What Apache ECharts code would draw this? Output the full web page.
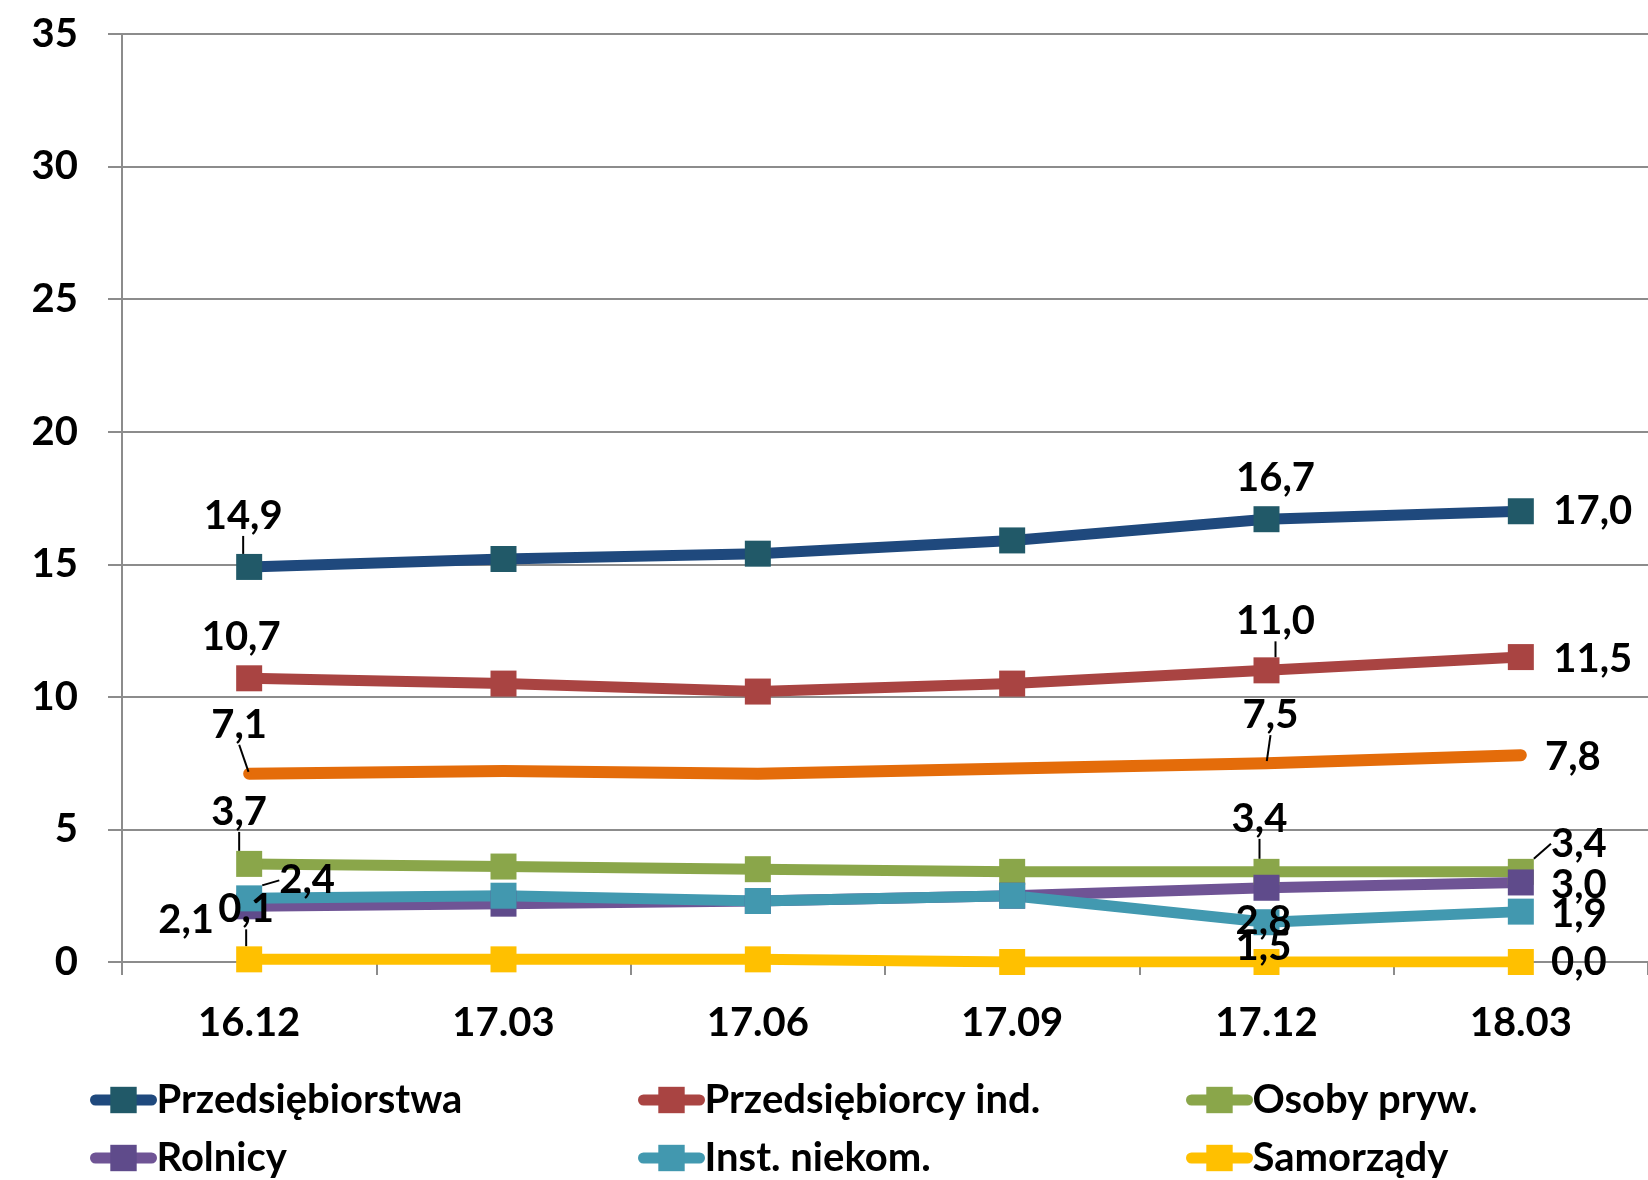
<!DOCTYPE html>
<html>
<head>
<meta charset="utf-8">
<script src="https://cdn.jsdelivr.net/npm/echarts@6/dist/echarts.min.js"></script>
<style>
html, body { margin: 0; padding: 0; background: #fff; }
#chart { width: 1648px; height: 1180px; }
</style>
</head>
<body>
<div id="chart"></div>
<script>
// kwartały
var categories = ['16.12', '17.03', '17.06', '17.09', '17.12', '18.03'];

// wartości serii
var przedsiebiorstwa = [14.9, 15.2, 15.4, 15.9, 16.7, 17.0];
var przedsiebiorcyInd = [10.7, 10.5, 10.2, 10.5, 11.0, 11.5];
var ogolem = [7.1, 7.2, 7.1, 7.3, 7.5, 7.8];
var osobyPryw = [3.7, 3.6, 3.5, 3.4, 3.4, 3.4];
var rolnicy = [2.1, 2.2, 2.3, 2.5, 2.8, 3.0];
var instNiekom = [2.4, 2.5, 2.3, 2.5, 1.5, 1.9];
var samorzady = [0.1, 0.1, 0.1, 0.0, 0.0, 0.0];

var yTicks = [0, 5, 10, 15, 20, 25, 30, 35];

var FONT = 'Lato';
var grey = '#8c8c8c';

// przesunięcia etykiet [dx, dy, linia prowadząca]
var labelPos = {
    przeds: {0: [-6, -51, true], 4: [9, -41, false], 5: [72, 0, false]},
    przedsInd: {0: [-8, -41, false], 4: [9, -49, true], 5: [72, 2, false]},
    ogolem: {0: [-10, -49, true], 4: [4, -48, true], 5: [52, 2, false]},
    osoby: {0: [-10, -52, true], 4: [-7, -53, true], 5: [58, -28, true]},
    rolnicy: {0: [-63, 14, false], 4: [-3, 33, false], 5: [58, 3, false]},
    inst: {0: [58, -18, true], 4: [-3, 25, false], 5: [58, 2, false]},
    samorz: {0: [-3, -50, true], 5: [58, 0, false]}
};

function fmt(v) {
    return v.toFixed(1).replace('.', ',');
}

function makeSeries(name, values, key, lineColor, markerColor, opts) {
    opts = opts || {};
    var pos = labelPos[key];
    var data = values.map(function (v, i) {
        var p = pos[i];
        return {
            value: v,
            label: {show: !!p},
            labelLine: {show: !!(p && p[2])}
        };
    });
    return {
        name: name,
        type: 'line',
        data: data,
        symbol: opts.symbol || 'rect',
        symbolSize: opts.symbolSize || 26,
        showAllSymbol: true,
        lineStyle: {color: lineColor, width: opts.width || 11, cap: 'round', join: 'round'},
        itemStyle: {color: markerColor},
        label: {
            position: 'inside',
            formatter: function (p) { return fmt(p.value); },
            fontFamily: FONT,
            fontWeight: 'bold',
            fontSize: 40,
            color: '#000'
        },
        labelLine: {show: true, lineStyle: {color: '#000', width: 2}},
        labelLayout: function (params) {
            var p = pos[params.dataIndex];
            if (!p) return {};
            return {dx: p[0], dy: p[1]};
        },
        emphasis: {disabled: true}
    };
}

var series = [
    makeSeries('Przedsiębiorstwa', przedsiebiorstwa, 'przeds', '#1f497d', '#215968'),
    makeSeries('Przedsiębiorcy ind.', przedsiebiorcyInd, 'przedsInd', '#a94442', '#a94442'),
    makeSeries('Ogółem', ogolem, 'ogolem', '#e46c0a', '#e46c0a', {symbol: 'circle', symbolSize: 4, width: 12}),
    makeSeries('Osoby pryw.', osobyPryw, 'osoby', '#8aa64a', '#8aa64a'),
    makeSeries('Rolnicy', rolnicy, 'rolnicy', '#6f5495', '#5f4b8b'),
    makeSeries('Inst. niekom.', instNiekom, 'inst', '#4299b0', '#4298af'),
    makeSeries('Samorządy', samorzady, 'samorz', '#ffc000', '#ffc000')
];

var legendItems = [
    ['Przedsiębiorstwa', 85, 1075],
    ['Przedsiębiorcy ind.', 633, 1075],
    ['Osoby pryw.', 1181, 1075],
    ['Rolnicy', 85, 1133],
    ['Inst. niekom.', 633, 1133],
    ['Samorządy', 1181, 1133]
];

var legends = legendItems.map(function (it) {
    return {
        data: [it[0]],
        left: it[1],
        top: it[2],
        itemWidth: 56,
        itemHeight: 33,
        itemGap: 0,
        selectedMode: false,
        lineStyle: {width: 11, cap: 'round'},
        textStyle: {fontFamily: FONT, fontWeight: 'bold', fontSize: 40, color: '#000'}
    };
});

var chart = echarts.init(document.getElementById('chart'));
chart.setOption({
    animation: false,
    backgroundColor: '#fff',
    legend: legends,
    grid: {left: 122, top: 34, right: 0, bottom: 218, containLabel: false, outerBoundsMode: 'none'},
    xAxis: {
        type: 'category',
        data: categories,
        boundaryGap: true,
        axisLine: {lineStyle: {color: grey, width: 2}},
        axisTick: {show: true, length: 13, lineStyle: {color: grey, width: 2}},
        axisLabel: {fontFamily: FONT, fontWeight: 'bold', fontSize: 40, color: '#000', margin: 41}
    },
    yAxis: {
        type: 'value',
        min: yTicks[0],
        max: yTicks[yTicks.length - 1],
        interval: 5,
        axisLine: {show: true, lineStyle: {color: grey, width: 2}},
        axisTick: {show: true, length: 14, lineStyle: {color: grey, width: 2}},
        splitLine: {lineStyle: {color: grey, width: 2}},
        axisLabel: {fontFamily: FONT, fontWeight: 'bold', fontSize: 40, color: '#000', margin: 44}
    },
    series: series
});
</script>
</body>
</html>
